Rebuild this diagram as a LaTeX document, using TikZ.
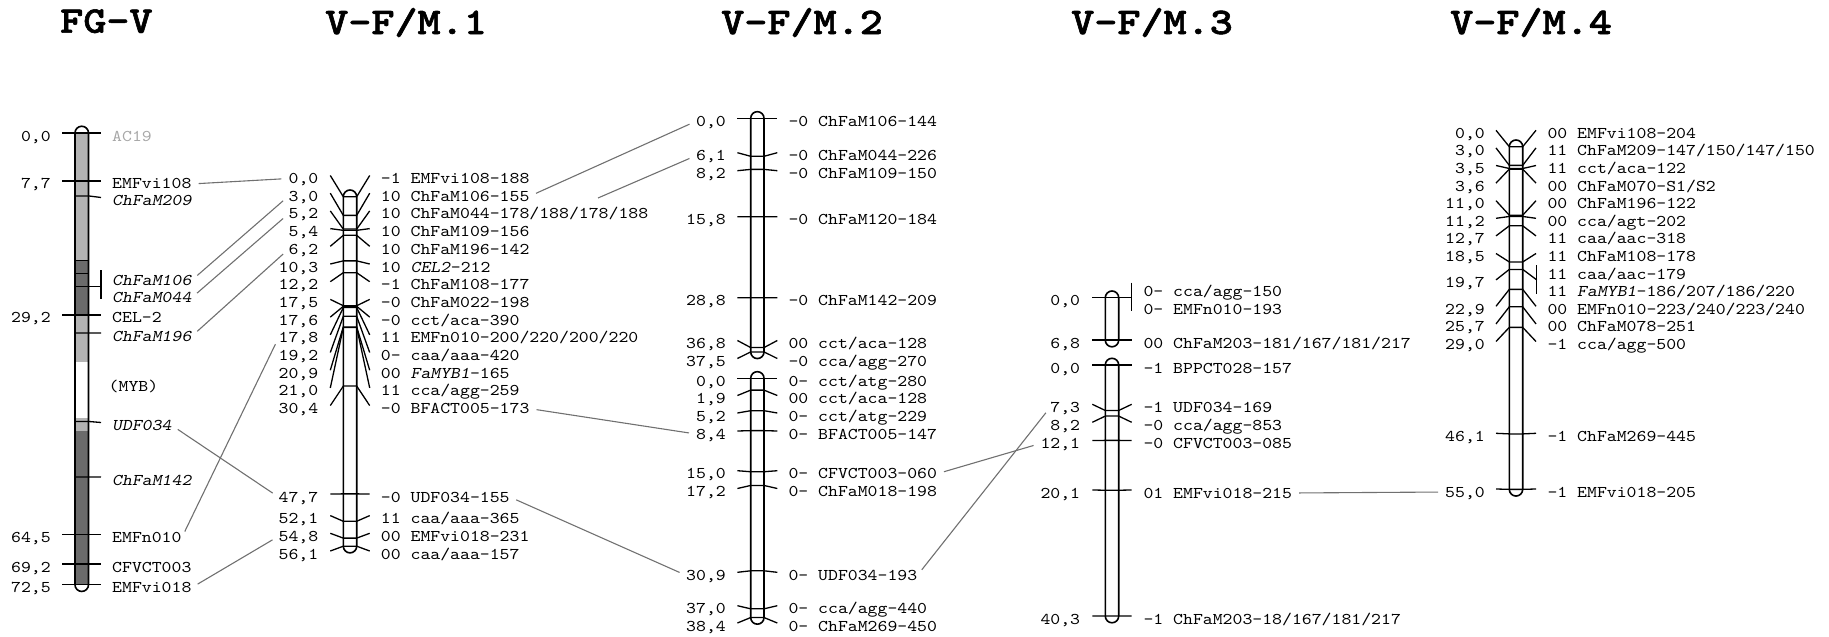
\documentclass[tikz,border=0pt]{standalone}
\usepackage{fontspec}
\usepackage{xcolor}
\newfontfamily\mapfont{lmmono10-regular}[Extension=.otf,ItalicFont=lmmonoslant10-regular,FakeStretch=1.15]
\newfontfamily\titlefont{lmmonolt10-bold}[Extension=.otf,FakeStretch=1.17,FakeBold=1.6]
\definecolor{BandLight}{HTML}{B3B3B3}
\definecolor{BandDark}{HTML}{6B6B6B}
\definecolor{LinkGrey}{HTML}{707070}
\definecolor{FadeGrey}{HTML}{A8A8A8}
\tikzset{
  chrom/.style={line width=1.6pt},
  mtick/.style={line width=1.3pt},
  link/.style={draw=LinkGrey,line width=1.1pt,shorten <=7pt,shorten >=7pt},
  lbl/.style={font=\mapfont\fontsize{16.4}{18}\selectfont,inner sep=0pt,text height=10pt,text depth=0pt,anchor=west},
  num/.style={lbl,anchor=east},
  mtitle/.style={font=\titlefont\fontsize{37.6}{40}\selectfont,inner sep=0pt,text depth=0pt,anchor=west}
}
\begin{document}
\begin{tikzpicture}[x=1pt,y=-1pt]
  \useasboundingbox (0,0) rectangle (1829,637);
  % titles
  \node[mtitle] (t0) at (60,21) {FG-V};
  \node[mtitle] (t1) at (325,21) {V-F/M.1};
  \node[mtitle] (t2) at (721,21) {V-F/M.2};
  \node[mtitle] (t3) at (1071,21) {V-F/M.3};
  \node[mtitle] (t4) at (1450,21) {V-F/M.4};

  % FG-V
  \fill[white,rounded corners=6.75pt] (75,126.25) rectangle (88.5,591.45);
  \foreach \a/\b/\c in {0/20.5/BandLight,20.5/29.2/BandDark,29.2/36.8/BandLight,45.8/47.8/BandLight,47.8/72.5/BandDark}
    \fill[\c] (75,{133+\a*6.23}) rectangle (88.5,{133+\b*6.23});
  \foreach \p in {20.5,22.6}
    \draw[mtick] (75,{133+\p*6.23}) -- (88.5,{133+\p*6.23});
  \foreach \p/\n/\t/\c [count=\i] in {0.0/{0,0}/AC19/FadeGrey,7.7/{7,7}/EMFvi108/black,
      29.2/{29,2}/CEL-2/black,64.5/{64,5}/EMFn010/black,69.2/{69,2}/CFVCT003/black,72.5/{72,5}/EMFvi018/black}
  {
    \draw[mtick] (62,{133+\p*6.23}) -- (101,{133+\p*6.23});
    \node[num] (fgn\i) at (51,{136+\p*6.23}) {\n};
    \node[lbl,text=\c] (fgl\i) at (112,{136+\p*6.23}) {\t};
  }
  \foreach \p/\l/\t [count=\i] in {10.1/197.5/ChFaM209,32.1/333/ChFaM196,46.3/422.5/UDF034,55.2/477/ChFaM142}
  {
    \draw[mtick] (75,{133+\p*6.23}) -- (88.5,{133+\p*6.23}) -- (101,\l);
    \node[lbl] (fgi\i) at (112,{\l+3}) {\textit{\t}};
  }
  \draw[mtick] (75,286.3) -- (101,286.3);
  \draw[mtick] (101,270) -- (101,299.3);
  \node[lbl] (fgg1) at (112,280) {\textit{ChFaM106}};
  \node[lbl] (fgg2) at (112,297.7) {\textit{ChFaM044}};
  \node[lbl] (fgmyb) at (108.5,386.2) {(MYB)};
  \draw[chrom,rounded corners=6.75pt] (75,126.25) rectangle (88.5,591.45);

  % V-F/M.1
  \foreach \p/\l/\n/\t [count=\i] in {
      0.0/175.5/{0,0}/{-1 EMFvi108-188},
      3.0/193.2/{3,0}/{10 ChFaM106-155},
      5.2/210.9/{5,2}/{10 ChFaM044-178/188/178/188},
      5.4/228.6/{5,4}/{10 ChFaM109-156},
      6.2/246.3/{6,2}/{10 ChFaM196-142},
      10.3/264.0/{10,3}/{10 \textit{CEL2}-212},
      12.2/281.7/{12,2}/{-1 ChFaM108-177},
      17.5/299.4/{17,5}/{-0 ChFaM022-198},
      17.6/317.1/{17,6}/{-0 cct/aca-390},
      17.8/334.8/{17,8}/{11 EMFn010-200/220/200/220},
      19.2/352.5/{19,2}/{0- caa/aaa-420},
      20.9/370.2/{20,9}/{00 \textit{FaMYB1}-165},
      21.0/387.9/{21,0}/{11 cca/agg-259},
      30.4/405.6/{30,4}/{-0 BFACT005-173},
      47.7/494.0/{47,7}/{-0 UDF034-155},
      52.1/515.6/{52,1}/{11 caa/aaa-365},
      54.8/533.3/{54,8}/{00 EMFvi018-231},
      56.1/551.0/{56,1}/{00 caa/aaa-157}}
  {
    \draw[mtick] (330.3,\l) -- (343.3,{196.7+\p*6.23}) -- (356.7,{196.7+\p*6.23}) -- (369.7,\l);
    \node[num] (m1n\i) at (318.5,{\l+3}) {\n};
    \node[lbl] (m1l\i) at (380.7,{\l+3}) {\t};
  }
  \draw[chrom,rounded corners=6.7pt] (343.3,190) rectangle (356.7,{196.7+56.1*6.23+6.7});

  % V-F/M.2
  \foreach \p/\l/\n/\t [count=\i] in {
      0.0/118.3/{0,0}/{-0 ChFaM106-144},
      6.1/152.7/{6,1}/{-0 ChFaM044-226},
      8.2/170.7/{8,2}/{-0 ChFaM109-150},
      15.8/216.7/{15,8}/{-0 ChFaM120-184},
      28.8/297.7/{28,8}/{-0 ChFaM142-209},
      36.8/340.5/{36,8}/{00 cct/aca-128},
      37.5/358.5/{37,5}/{-0 cca/agg-270}}
  {
    \draw[mtick] (737.4,\l) -- (750.7,{118.3+\p*6.23}) -- (764,{118.3+\p*6.23}) -- (777.3,\l);
    \node[num] (m2an\i) at (726,{\l+3}) {\n};
    \node[lbl] (m2al\i) at (788.3,{\l+3}) {\t};
  }
  \draw[chrom,rounded corners=6.65pt] (750.7,111.65) rectangle (764,{118.3+37.5*6.23+6.65});
  \foreach \p/\l/\n/\t [count=\i] in {
      0.0/378.3/{0,0}/{0- cct/atg-280},
      1.9/395.5/{1,9}/{00 cct/aca-128},
      5.2/413.0/{5,2}/{0- cct/atg-229},
      8.4/431.0/{8,4}/{0- BFACT005-147},
      15.0/470.7/{15,0}/{0- CFVCT003-060},
      17.2/488.5/{17,2}/{0- ChFaM018-198},
      30.9/572.3/{30,9}/{0- UDF034-193},
      37.0/605.7/{37,0}/{0- cca/agg-440},
      38.4/623.0/{38,4}/{0- ChFaM269-450}}
  {
    \draw[mtick] (737.4,\l) -- (750.7,{378.3+\p*6.23}) -- (764,{378.3+\p*6.23}) -- (777.3,\l);
    \node[num] (m2bn\i) at (726,{\l+3}) {\n};
    \node[lbl] (m2bl\i) at (788.3,{\l+3}) {\t};
  }
  \draw[chrom,rounded corners=6.65pt] (750.7,371.65) rectangle (764,{378.3+38.4*6.23+6.65});

  % V-F/M.3
  \draw[mtick] (1092.3,297.7) -- (1131.7,297.7);
  \draw[mtick] (1131.7,282.7) -- (1131.7,310.7);
  \node[num] (m3an1) at (1080.3,300.7) {0,0};
  \node[lbl] (m3al1) at (1143.3,291.9) {0- cca/agg-150};
  \node[lbl] (m3al2) at (1143.3,309.6) {0- EMFn010-193};
  \draw[mtick] (1092.3,340.1) -- (1131.7,340.1);
  \node[num] (m3an2) at (1080.3,343) {6,8};
  \node[lbl] (m3al3) at (1143.3,343) {00 ChFaM203-181/167/181/217};
  \draw[chrom,rounded corners=6.7pt] (1105.3,291) rectangle (1118.7,346.8);
  \foreach \p/\l/\n/\t [count=\i] in {
      0.0/365.0/{0,0}/{-1 BPPCT028-157},
      7.3/404.3/{7,3}/{-1 UDF034-169},
      8.2/422.3/{8,2}/{-0 cca/agg-853},
      12.1/440.5/{12,1}/{-0 CFVCT003-085},
      20.1/490.0/{20,1}/{01 EMFvi018-215},
      40.3/616.0/{40,3}/{-1 ChFaM203-18/167/181/217}}
  {
    \draw[mtick] (1092.3,\l) -- (1105.3,{365+\p*6.23}) -- (1118.7,{365+\p*6.23}) -- (1131.7,\l);
    \node[num] (m3bn\i) at (1080.3,{\l+3}) {\n};
    \node[lbl] (m3bl\i) at (1143.3,{\l+3}) {\t};
  }
  \draw[chrom,rounded corners=6.7pt] (1105.3,358.3) rectangle (1118.7,{365+40.3*6.23+6.7});

  % V-F/M.4
  \foreach \p/\l/\n/\t [count=\i] in {
      0.0/130.3/{0,0}/{00 EMFvi108-204},
      3.0/147.9/{3,0}/{11 ChFaM209-147/150/147/150},
      3.5/165.5/{3,5}/{11 cct/aca-122},
      3.6/183.1/{3,6}/{00 ChFaM070-S1/S2},
      11.0/200.7/{11,0}/{00 ChFaM196-122},
      11.2/218.3/{11,2}/{00 cca/agt-202},
      12.7/235.9/{12,7}/{11 caa/aac-318},
      18.5/253.5/{18,5}/{11 ChFaM108-178},
      22.9/306.3/{22,9}/{00 EMFn010-223/240/223/240},
      25.7/323.9/{25,7}/{00 ChFaM078-251},
      29.0/341.5/{29,0}/{-1 cca/agg-500},
      46.1/433.3/{46,1}/{-1 ChFaM269-445},
      55.0/489.0/{55,0}/{-1 EMFvi018-205}}
  {
    \draw[mtick] (1496,\l) -- (1509.3,{146.7+\p*6.23}) -- (1522.7,{146.7+\p*6.23}) -- (1536,\l);
    \node[num] (m4n\i) at (1485,{\l+3}) {\n};
    \node[lbl] (m4l\i) at (1547.3,{\l+3}) {\t};
  }
  \draw[mtick] (1496,279.9) -- (1509.3,269.4) -- (1522.7,269.4) -- (1536.7,279.9);
  \draw[mtick] (1536.7,265) -- (1536.7,294.3);
  \node[num] (m4gn) at (1485,282.9) {19,7};
  \node[lbl] (m4g1) at (1547.3,274.1) {11 caa/aac-179};
  \node[lbl] (m4g2) at (1547.3,291.7) {11 \textit{FaMYB1}-186/207/186/220};
  \draw[chrom,rounded corners=6.7pt] (1509.3,140) rectangle (1522.7,{146.7+55*6.23+6.7});

  % links between maps
  \draw[link] (fgl2.east) -- (m1n1.west);
  \draw[link] (fgg1.east) -- (m1n2.west);
  \draw[link] (fgg2.east) -- (m1n3.west);
  \draw[link] (fgi2.east) -- (m1n5.west);
  \draw[link] (fgl4.east) -- (m1n10.west);
  \draw[link] (fgi3.east) -- (m1n15.west);
  \draw[link] (fgl6.east) -- (m1n17.west);
  \draw[link] (m1l2.east) -- (m2an1.west);
  \coordinate (m1cut) at (598,198);
  \draw[link,shorten <=0pt] (m1cut) -- (m2an2.west);
  \draw[link] (m1l14.east) -- (m2bn4.west);
  \draw[link] (m1l15.east) -- (m2bn7.west);
  \draw[link] (m2bl5.east) -- (m3bn4.west);
  \draw[link] (m2bl7.east) -- (m3bn2.west);
  \draw[link] (m3bl5.east) -- (m4n13.west);
\end{tikzpicture}
\end{document}
